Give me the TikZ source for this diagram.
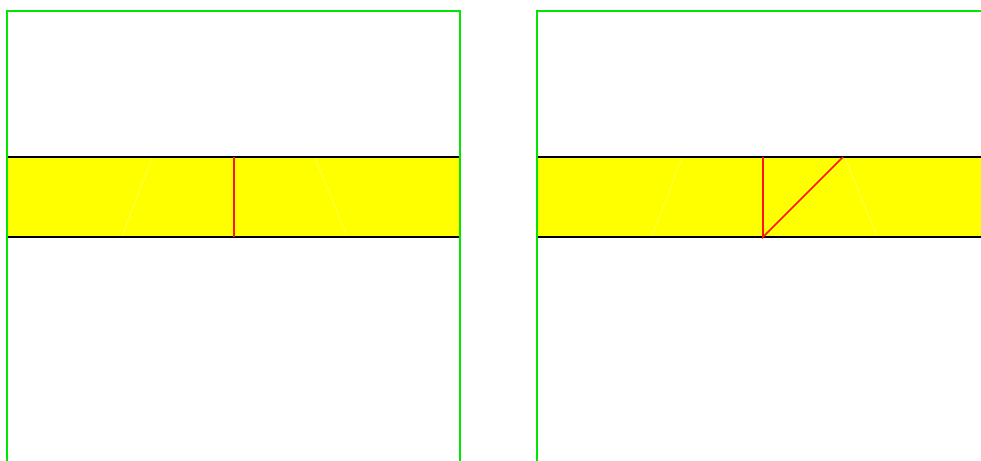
\documentclass[tikz,border=0pt]{standalone}
\usetikzlibrary{calc}
\definecolor{bandfill}{RGB}{255,255,0}
\definecolor{wallgreen}{RGB}{0,230,0}
\definecolor{cutred}{RGB}{255,20,20}
\definecolor{seamcol}{RGB}{255,255,110}
\begin{document}
\begin{tikzpicture}[x=1pt, y=-1pt,
  wall/.style={draw=wallgreen, line width=2pt},
  bandedge/.style={draw=black, line width=2pt},
  cut/.style={draw=cutred, line width=1.6pt},
  seam/.style={draw=seamcol, line width=0.5pt}]
\useasboundingbox (0,0) rectangle (981,460);
\clip (0,0) rectangle (981,460);
\foreach \ox in {0,530} {
  % band
  \fill[bandfill] (7+\ox,157) rectangle (460+\ox,237);
  \draw[seam] (152+\ox,158) -- (122+\ox,236);
  \draw[seam] (315+\ox,158) -- (347+\ox,236);
  \draw[bandedge] (7+\ox,157) -- (460+\ox,157);
  \draw[bandedge] (7+\ox,237) -- (460+\ox,237);
  % outline
  \draw[wall] (7+\ox,470) -- (7+\ox,11) -- (460+\ox,11) -- (460+\ox,470);
}
\draw[cut] (234,157) -- (234,237);
\draw[cut] (763,157) -- (763,237) -- (843,157);
\end{tikzpicture}
\end{document}
